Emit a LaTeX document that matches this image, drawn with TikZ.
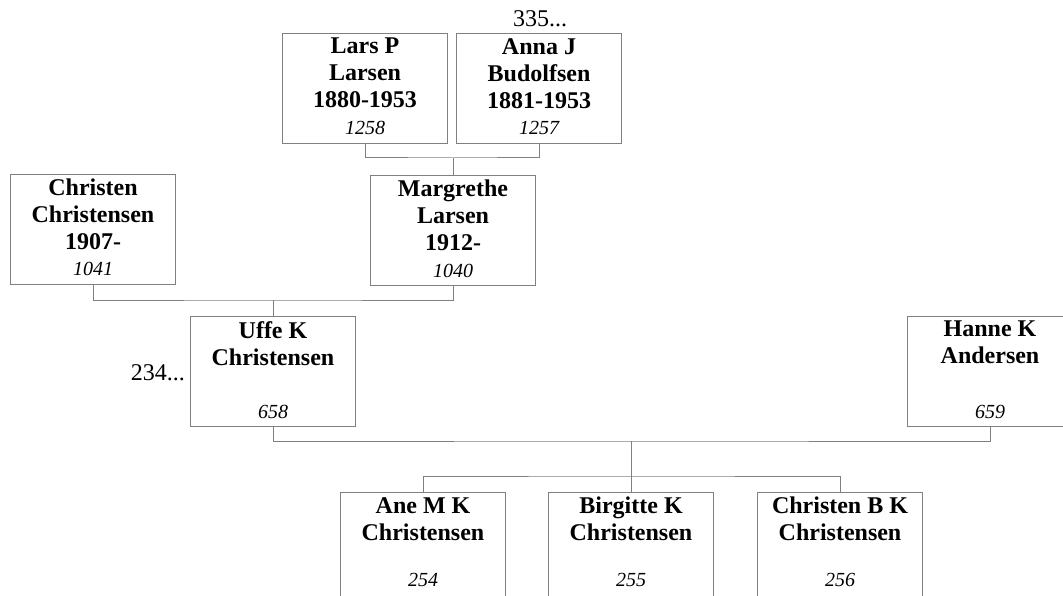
\documentclass[tikz,border=0pt]{standalone}
\usepackage{fontspec}
\setmainfont{Liberation Serif}
\definecolor{boxgray}{RGB}{128,128,128}
\tikzset{
  pbox/.style={draw=boxgray, line width=1pt, minimum width=165pt, minimum height=110pt, inner sep=0pt, anchor=north west},
  pname/.style={anchor=north, inner sep=0pt, align=center, font=\fontsize{24}{27}\selectfont\bfseries},
  pnum/.style={anchor=base, inner sep=0pt, font=\fontsize{20}{22}\selectfont\itshape},
  more/.style={inner sep=0pt, font=\fontsize{24}{27}\selectfont},
  link/.style={draw=boxgray, line width=1pt}
}
\begin{document}
\begin{tikzpicture}[x=1pt,y=-1pt]
\clip (0,0) rectangle (1063,596);
% boxes
\node[pbox] (lars) at (282,33) {};
\node[pbox] (anna) at (456,33) {};
\node[pbox] (christen) at (10,174) {};
\node[pbox] (margrethe) at (370,175) {};
\node[pbox] (uffe) at (190,316) {};
\node[pbox] (hanne) at (907,316) {};
\node[pbox] (ane) at (340,492) {};
\node[pbox] (birgitte) at (548,492) {};
\node[pbox] (christenb) at (757,492) {};
% names
\node[pname] (lars-t) at ([yshift=-5pt]lars.north) {Lars P\\Larsen\\1880-1953};
\node[pname] (anna-t) at ([yshift=-5pt]anna.north) {Anna J\\Budolfsen\\1881-1953};
\node[pname] (christen-t) at ([yshift=-5pt]christen.north) {Christen\\Christensen\\1907-};
\node[pname] (margrethe-t) at ([yshift=-5pt]margrethe.north) {Margrethe\\Larsen\\1912-};
\node[pname] (uffe-t) at ([yshift=-5pt]uffe.north) {Uffe K\\Christensen};
\node[pname] (hanne-t) at ([yshift=-5pt]hanne.north) {Hanne K\\Andersen};
\node[pname] (ane-t) at ([yshift=-5pt]ane.north) {Ane M K\\Christensen};
\node[pname] (birgitte-t) at ([yshift=-5pt]birgitte.north) {Birgitte K\\Christensen};
\node[pname] (christenb-t) at ([yshift=-5pt]christenb.north) {Christen B K\\Christensen};
% numbers
\node[pnum] (lars-i) at ([yshift=9pt]lars.south) {1258};
\node[pnum] (anna-i) at ([yshift=9pt]anna.south) {1257};
\node[pnum] (christen-i) at ([yshift=9pt]christen.south) {1041};
\node[pnum] (margrethe-i) at ([yshift=9pt]margrethe.south) {1040};
\node[pnum] (uffe-i) at ([yshift=9pt]uffe.south) {658};
\node[pnum] (hanne-i) at ([yshift=9pt]hanne.south) {659};
\node[pnum] (ane-i) at (ane.north |- 0,586) {254};
\node[pnum] (birgitte-i) at (birgitte.north |- 0,586) {255};
\node[pnum] (christenb-i) at (christenb.north |- 0,586) {256};
% continuation labels
\node[more, anchor=base] (anna-more) at (540,27) {335...};
\node[more, anchor=base east] (uffe-more) at (185,380) {234...};
% connectors
\coordinate (la) at (margrethe.north |- 0,158);
\draw[link] (lars.south) |- (la) -| (anna.south);
\draw[link] (la) -- (margrethe.north);
\coordinate (cm) at (uffe.north |- 0,300);
\draw[link] (christen.south) |- (cm) -| (margrethe.south);
\draw[link] (cm) -- (uffe.north);
\coordinate (uh) at (birgitte.north |- 0,441);
\coordinate (kids) at (birgitte.north |- 0,476);
\draw[link] (uffe.south) |- (uh) -| (hanne.south);
\draw[link] (uh) -- (birgitte.north);
\draw[link] (ane.north) |- (kids) -| (christenb.north);
\end{tikzpicture}
\end{document}
